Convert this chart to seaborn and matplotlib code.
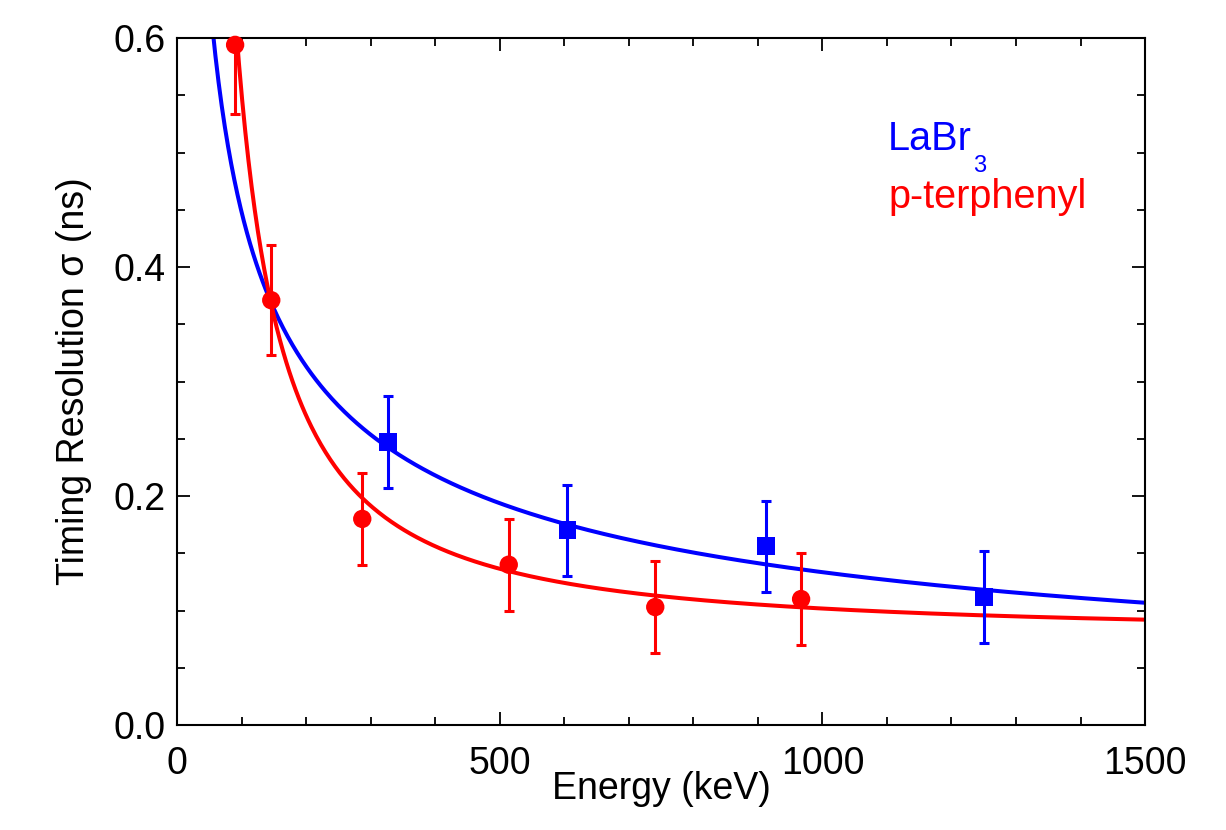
import numpy as np
import pandas as pd
import seaborn as sns
import matplotlib
matplotlib.use('Agg')
import matplotlib.pyplot as plt
from matplotlib.ticker import MultipleLocator, FormatStrFormatter

# --- data ---
labr_energy = [327, 605, 912, 1251]
labr_sigma = [0.247, 0.170, 0.156, 0.112]
labr_err = [0.040, 0.040, 0.040, 0.040]

pter_energy = [90, 146, 287, 514, 741, 967]
pter_sigma = [0.594, 0.371, 0.180, 0.140, 0.103, 0.110]
pter_err = [0.060, 0.048, 0.040, 0.040, 0.040, 0.040]

# fit curves (parameters estimated from the drawn fits)
labr_fit = dict(a=4.6, c=-0.012)          # a/sqrt(E) + c
pter_fit = dict(a=188.5, p=1.3, c=0.078)  # a/E^p + c

BLUE = '#0000ff'
RED = '#ff0000'

sns.set_theme(style='ticks')
plt.rcParams['font.family'] = ['Liberation Sans', 'DejaVu Sans']
plt.rcParams['text.color'] = 'black'
plt.rcParams['axes.labelcolor'] = 'black'

e_fit = np.linspace(40, 1500, 600)
fits = pd.DataFrame({
    'Energy': np.concatenate([e_fit, e_fit]),
    'sigma': np.concatenate([
        labr_fit['a'] / np.sqrt(e_fit) + labr_fit['c'],
        pter_fit['a'] / e_fit ** pter_fit['p'] + pter_fit['c'],
    ]),
    'det': ['LaBr3'] * len(e_fit) + ['p-terphenyl'] * len(e_fit),
})
pal = {'LaBr3': BLUE, 'p-terphenyl': RED}

fig = plt.figure(figsize=(12.26, 8.30), dpi=100)
ax = fig.add_axes([0.1444, 0.1265, 0.7896, 0.8277])

sns.lineplot(data=fits, x='Energy', y='sigma', hue='det', palette=pal,
             lw=2.9, legend=False, ax=ax, sort=False, estimator=None)

ax.errorbar(labr_energy, labr_sigma, yerr=labr_err, fmt='none', ecolor=BLUE,
            elinewidth=2.2, capsize=3.6, capthick=2.2, zorder=3)
ax.errorbar(pter_energy, pter_sigma, yerr=pter_err, fmt='none', ecolor=RED,
            elinewidth=2.2, capsize=3.6, capthick=2.2, zorder=3)
sns.scatterplot(x=labr_energy, y=labr_sigma, marker='s', s=165, color=BLUE,
                edgecolor='none', ax=ax, zorder=4, clip_on=False)
sns.scatterplot(x=pter_energy, y=pter_sigma, marker='o', s=175, color=RED,
                edgecolor='none', ax=ax, zorder=4, clip_on=False)

ax.set_xlim(0, 1500)
ax.set_ylim(0, 0.6)
ax.xaxis.set_major_locator(MultipleLocator(500))
ax.xaxis.set_minor_locator(MultipleLocator(100))
ax.yaxis.set_major_locator(MultipleLocator(0.2))
ax.yaxis.set_minor_locator(MultipleLocator(0.05))
ax.yaxis.set_major_formatter(FormatStrFormatter('%.1f'))

for s in ax.spines.values():
    s.set_linewidth(1.5)
    s.set_color('black')
    s.set_visible(True)
ax.tick_params(which='both', direction='in', top=True, right=True,
               width=1.3, colors='black', labelsize=27)
ax.tick_params(which='major', length=9.5)
ax.tick_params(which='minor', length=5.5)
ax.tick_params(axis='x', which='major', pad=15)
ax.tick_params(axis='y', which='major', pad=8)

ax.set_xlabel('Energy (keV)', fontsize=27, color='black')
ax.set_ylabel('Timing Resolution σ (ns)', fontsize=27, color='black')
ax.xaxis.set_label_coords(0.5, -0.067)
ax.yaxis.set_label_coords(-0.088, 0.5)

ax.text(0.7345, 0.837, 'LaBr', color=BLUE, fontsize=28.5,
        transform=ax.transAxes, va='baseline')
ax.text(0.8223, 0.8054, '3', color=BLUE, fontsize=17,
        transform=ax.transAxes, va='baseline')
ax.text(0.7345, 0.7525, 'p-terphenyl', color=RED, fontsize=28.5,
        transform=ax.transAxes, va='baseline')

fig.savefig('out.png', dpi=100, facecolor='white')
